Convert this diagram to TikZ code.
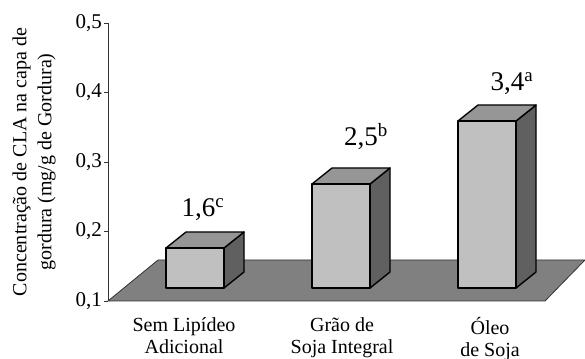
\documentclass[tikz,border=0pt]{standalone}
\usepackage{fontspec}
\setmainfont{Liberation Serif}
\definecolor{frontgray}{HTML}{C0C0C0}
\definecolor{topgray}{HTML}{969696}
\definecolor{sidegray}{HTML}{606060}
\definecolor{floorgray}{HTML}{808080}
\tikzset{
  face/.style={draw=black, line width=1.4pt, line join=round},
  frontface/.style={face, fill=frontgray},
  topface/.style={face, fill=topgray},
  sideface/.style={face, fill=sidegray},
  floorface/.style={fill=floorgray, draw=black!80, line width=0.8pt},
  axisline/.style={draw=black!80, line width=0.8pt},
  ticklabel/.style={anchor=east, inner sep=0pt, font=\fontsize{21}{21}\selectfont},
  catlabel/.style={anchor=north, inner sep=0pt, align=center, font=\fontsize{20}{22}\selectfont},
  barlabel/.style={inner sep=0pt, font=\fontsize{27}{27}\selectfont}
}
\begin{document}
\begin{tikzpicture}[x=1pt,y=1pt]
\useasboundingbox (0,0) rectangle (585,358);
\clip (0,0) rectangle (585,358);

% floor
\draw [floorface] (108,57) -- (545,57) -- (585,98) -- (158,98) -- cycle;

% axis and ticks
\draw [axisline] (108,57) -- (108,335);
\foreach \i/\y in {1/57, 2/127, 3/196, 4/266, 5/335} {
  \draw [axisline] (104,\y) -- (108,\y);
  \node [ticklabel] (tick\i) at (102,\y) {0,\i};
}

% bars
\foreach \name/\x/\top in {sem/166/110, grao/312/174, oleo/458/237} {
  \draw [sideface] (\x+58,70) -- (\x+78,86) -- (\x+78,\top+16) -- (\x+58,\top) -- cycle;
  \draw [topface] (\x,\top) -- (\x+20,\top+16) -- (\x+78,\top+16) -- (\x+58,\top) -- cycle;
  \draw [frontface] (\x,70) rectangle (\x+58,\top);
}

\node [barlabel] (vsem) at (203,148) {1,6\textsuperscript{c}};
\node [barlabel] (vgrao) at (366,221) {2,5\textsuperscript{b}};
\node [barlabel] (voleo) at (512,274) {3,4\textsuperscript{a}};

\node [catlabel] (csem) at (184,41) {Sem Lipídeo\\Adicional};
\node [catlabel] (cgrao) at (342,41) {Grão de\\Soja Integral};
\node [catlabel] (coleo) at (490,41) {Óleo\\de Soja};

\node [rotate=90, align=center, inner sep=0pt, font=\fontsize{20}{25}\selectfont] (ylab) at (34,196)
  {Concentração de CLA na capa de\\gordura (mg/g de Gordura)};
\end{tikzpicture}
\end{document}
